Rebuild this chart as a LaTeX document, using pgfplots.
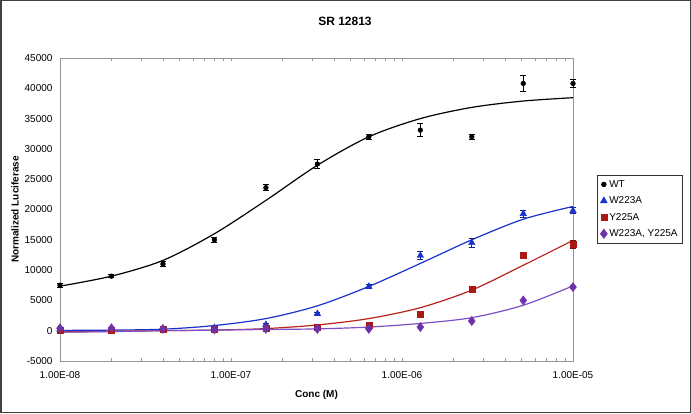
\documentclass[border=0pt]{standalone}
\usepackage{pgfplots}
\pgfplotsset{compat=1.18}
\usepackage{pgfplotstable}
\usepackage{fontspec}
\setmainfont{Liberation Sans}
\definecolor{wtc}{RGB}{0,0,0}
\definecolor{bluec}{RGB}{25,50,205}
\definecolor{redc}{RGB}{170,25,20}
\definecolor{redl}{RGB}{185,35,25}
\definecolor{purc}{RGB}{110,50,170}
\definecolor{purl}{RGB}{125,80,200}
\definecolor{axg}{RGB}{150,150,150}

\pgfplotstableread{
x y e
1e-8 7500 300
2e-8 9000 250
4e-8 11000 400
8e-8 15000 400
1.6e-7 23600 500
3.2e-7 27500 700
6.4e-7 32000 400
1.28e-6 33100 1100
2.56e-6 32000 400
5.12e-6 40800 1350
1e-5 40800 600
}\wtdata
\pgfplotstableread{
x y
1e-8 7350
2e-8 9000
4e-8 11600
8e-8 16000
1.6e-7 21500
3.2e-7 27300
6.4e-7 32000
1.28e-6 35000
2.56e-6 36850
5.12e-6 37900
1e-5 38450
}\wtfit
\pgfplotstableread{
x y e
1e-8 200 100
2e-8 250 100
4e-8 300 100
8e-8 500 100
1.6e-7 1000 200
3.2e-7 2800 200
6.4e-7 7300 400
1.28e-6 12400 700
2.56e-6 14500 800
5.12e-6 19300 600
1e-5 19800 500
}\wdata
\pgfplotstableread{
x y
1e-8 50
2e-8 100
4e-8 250
8e-8 850
1.6e-7 2000
3.2e-7 4100
6.4e-7 7300
1.28e-6 11100
2.56e-6 15000
5.12e-6 18400
1e-5 20500
}\wfit
\pgfplotstableread{
x y e
1e-8 100 100
2e-8 150 100
4e-8 200 100
8e-8 200 100
1.6e-7 400 100
3.2e-7 500 100
6.4e-7 900 200
1.28e-6 2800 400
2.56e-6 6800 400
5.12e-6 12400 400
1e-5 14200 700
}\ydata
\pgfplotstableread{
x y
1e-8 -200
2e-8 -100
4e-8 0
8e-8 100
1.6e-7 350
3.2e-7 950
6.4e-7 2000
1.28e-6 3800
2.56e-6 6700
5.12e-6 10800
1e-5 14900
}\yfit
\pgfplotstableread{
x y e
1e-8 400 150
2e-8 400 150
4e-8 300 150
8e-8 200 150
1.6e-7 300 150
3.2e-7 300 150
6.4e-7 300 150
1.28e-6 600 150
2.56e-6 1600 200
5.12e-6 5000 200
1e-5 7200 200
}\pdata
\pgfplotstableread{
x y
1e-8 -250
2e-8 -150
4e-8 0
8e-8 100
1.6e-7 200
3.2e-7 300
6.4e-7 600
1.28e-6 1200
2.56e-6 2150
5.12e-6 4200
1e-5 7400
}\pfit

\begin{document}
\begin{tikzpicture}[x=1bp,y=1bp]
\useasboundingbox (0,0) rectangle (691,413);
\fill[white] (0,0) rectangle (691,413);
\draw[line width=1.5bp, black!75] (0.75,0.75) rectangle (690.25,412.25);
\node[font=\fontsize{12bp}{14bp}\selectfont\bfseries] at (345,392) {SR 12813};
\node[font=\fontsize{10bp}{12bp}\selectfont\bfseries] at (316.5,18) {Conc (M)};
\node[font=\fontsize{10bp}{12bp}\selectfont\bfseries, rotate=90] at (15,203.5) {Normalized Luciferase};
\begin{axis}[
  at={(60bp,52bp)}, anchor=south west,
  scale only axis, width=513bp, height=303bp,
  xmode=log, xmin=1e-8, xmax=1e-5,
  ymin=-5000, ymax=45000,
  scaled y ticks=false,
  ytick={-5000,0,5000,10000,15000,20000,25000,30000,35000,40000,45000},
  yticklabels={-5000,0,5000,10000,15000,20000,25000,30000,35000,40000,45000},
  xtick={1e-8,1e-7,1e-6,1e-5},
  xticklabels={1.00E-08,1.00E-07,1.00E-06,1.00E-05},
  axis line style={axg, line width=0.8bp},
  tick style={axg, line width=0.6bp},
  major tick length=0bp, minor tick length=3bp,
  tick align=inside,
  yminorticks=false,
  ticklabel style={font=\fontsize{10bp}{12bp}\selectfont, text=black},
  yticklabel style={xshift=-4bp},
  xticklabel style={yshift=-7bp},
  clip=false,
  legend style={at={(1.047,0.614)}, anchor=north west, draw=black!80, line width=0.6bp,
     font=\fontsize{10bp}{12bp}\selectfont, inner xsep=3bp, inner ysep=3bp, row sep=4bp,
     cells={anchor=west}},
  legend image code/.code={\draw[mark repeat=2,mark phase=2,#1] plot coordinates {(0bp,0bp) (4bp,0bp) (8bp,0bp)};},
]
\addplot[wtc, line width=1.2bp, smooth, no marks, forget plot] table[x=x,y=y] {\wtfit};
\addplot[bluec, line width=1.2bp, smooth, no marks, forget plot] table[x=x,y=y] {\wfit};
\addplot[redl, line width=1.2bp, smooth, no marks, forget plot] table[x=x,y=y] {\yfit};
\addplot[purl, line width=1.2bp, smooth, no marks, forget plot] table[x=x,y=y] {\pfit};

\addplot[only marks, mark=*, mark size=2.4bp, color=wtc,
  error bars/.cd, y dir=both, y explicit, error bar style={line width=0.8bp, black},
  error mark options={rotate=90, mark size=3bp, line width=0.8bp, black}]
  table[x=x,y=y,y error=e] {\wtdata};
\addlegendentry{WT}
\addplot[only marks, mark=triangle*, mark size=3.8bp, color=bluec,
  error bars/.cd, y dir=both, y explicit, error bar style={line width=0.8bp, bluec!70!black},
  error mark options={rotate=90, mark size=3bp, line width=0.8bp, bluec!70!black}]
  table[x=x,y=y,y error=e] {\wdata};
\addlegendentry{W223A}
\addplot[only marks, mark=square*, mark size=3bp, color=redc,
  error bars/.cd, y dir=both, y explicit, error bar style={line width=0.8bp, redc!70!black},
  error mark options={rotate=90, mark size=3bp, line width=0.8bp, redc!70!black}]
  table[x=x,y=y,y error=e] {\ydata};
\addlegendentry{Y225A}
\addplot[only marks, mark=diamond*, mark size=4.6bp, color=purc,
  error bars/.cd, y dir=both, y explicit, error bar style={line width=0.8bp, purc},
  error mark options={rotate=90, mark size=2.5bp, line width=0.8bp, purc}]
  table[x=x,y=y,y error=e] {\pdata};
\addlegendentry{W223A, Y225A}
\end{axis}
\end{tikzpicture}
\end{document}
